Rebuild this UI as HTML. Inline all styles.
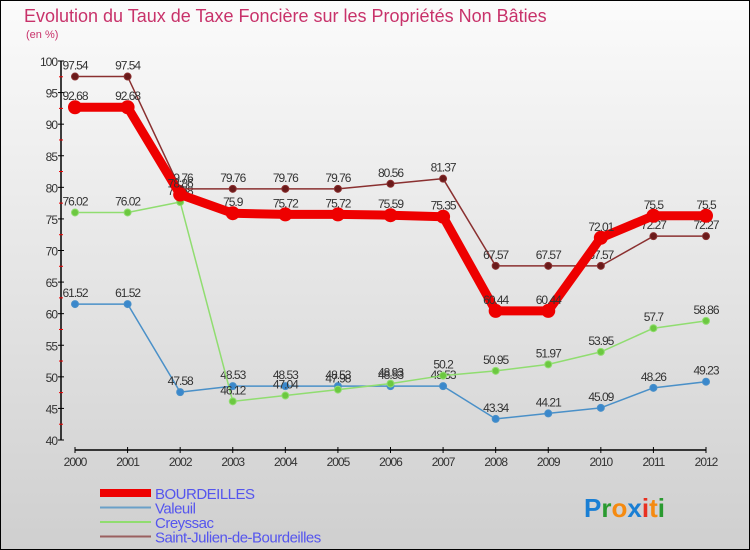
<!DOCTYPE html>
<html><head><meta charset="utf-8"><style>
body{margin:0;width:750px;height:550px;overflow:hidden;font-family:"Liberation Sans",sans-serif}
#frame{position:absolute;left:0;top:0;width:748px;height:548px;border:1px solid #000;background:linear-gradient(#fbfbfb,#cfcfcf)}
</style></head><body>
<div id="frame"></div>
<svg id="c" width="750" height="550" style="position:absolute;left:0;top:0">
<text x="24" y="22" font-size="18" fill="#c8326a">Evolution du Taux de Taxe Foncière sur les Propriétés Non Bâties</text>
<text x="26" y="38" font-size="11" fill="#c8326a">(en %)</text>
<g font-size="26" font-weight="bold">
<text x="584" y="517"><tspan fill="#1a7fd4">P</tspan><tspan fill="#2a9a30">r</tspan><tspan fill="#f58a10">o</tspan><tspan fill="#1a7fd4">x</tspan><tspan fill="#e83020">i</tspan><tspan fill="#f58a10">t</tspan><tspan fill="#2a9a30">i</tspan></text></g>
</svg>
<script>
const years=[2000,2001,2002,2003,2004,2005,2006,2007,2008,2009,2010,2011,2012];
const yTicks=[40,45,50,55,60,65,70,75,80,85,90,95,100];
const bourdeilles=[92.68,92.68,78.86,75.9,75.72,75.72,75.59,75.35,60.44,60.44,72.01,75.5,75.5];
const valeuil=[61.52,61.52,47.58,48.53,48.53,48.53,48.53,48.53,43.34,44.21,45.09,48.26,49.23];
const creyssac=[76.02,76.02,77.68,46.12,47.04,47.98,48.93,50.2,50.95,51.97,53.95,57.7,58.86];
const stjulien=[97.54,97.54,79.76,79.76,79.76,79.76,80.56,81.37,67.57,67.57,67.57,72.27,72.27];
const svg=document.getElementById('c');const NS='http://www.w3.org/2000/svg';
const X=i=>75+i*(706-75)/(years.length-1);
const Y=v=>440-(v-40)*(440-61)/60;
function el(t,a,p){const e=document.createElementNS(NS,t);for(const k in a)e.setAttribute(k,a[k]);(p||svg).appendChild(e);return e;}
const ax=el('g',{});


el('line',{x1:61,y1:61,x2:61,y2:440,stroke:'#000','stroke-width':1.5},ax);
yTicks.forEach(v=>{el('line',{x1:58,x2:64,y1:Y(v),y2:Y(v),stroke:'#000'},ax);
if(v<100)el('line',{x1:59,x2:63,y1:Y(v+2.5),y2:Y(v+2.5),stroke:'#e00'},ax);
const t=el('text',{x:57,y:Y(v)+5,'text-anchor':'end','font-size':12,fill:'#333','letter-spacing':'-1'},ax);t.textContent=v;});
const xa=el('g',{});


el('line',{x1:75,y1:450,x2:706,y2:450,stroke:'#000','stroke-width':1.5},xa);
years.forEach((y,i)=>{el('line',{x1:X(i),x2:X(i),y1:447,y2:453,stroke:'#000'},xa);
const t=el('text',{x:X(i),y:466,'text-anchor':'middle','font-size':12,fill:'#333','letter-spacing':'-1'},xa);t.textContent=y;});
function series(name,data,color,w,r,dot){
const g=el('g',{});


el('polyline',{points:data.map((v,i)=>X(i)+','+Y(v)).join(' '),fill:'none',stroke:color,'stroke-width':w,'stroke-linejoin':'round'},g);
data.forEach((v,i)=>{const c=el('circle',{cx:X(i),cy:Y(v),r:r,fill:dot,stroke:color,'stroke-width':1},g);


const t=el('text',{x:X(i),y:Y(v)-7,'text-anchor':'middle','font-size':12,fill:'#333','letter-spacing':'-1'},g);t.textContent=v;});}
series('valeuil',valeuil,'#4a90c8',1.5,3.5,'#3a88cc');
series('creyssac',creyssac,'#90dd70',1.5,3.5,'#6cc840');
series('saint-julien',stjulien,'#8a3030',1.5,3.5,'#6a1a1a');
series('bourdeilles',bourdeilles,'#ee0000',9,6.5,'#ee0000');
const lg=[['BOURDEILLES','#ee0000',8],['Valeuil','#6aa0c8',2],['Creyssac','#90dd70',2],['Saint-Julien-de-Bourdeilles','#9a6060',2]];
lg.forEach((l,i)=>{const g=el('g',{});


const y=493+i*14.5;
el('line',{x1:100,x2:151,y1:y,y2:y,stroke:l[1],'stroke-width':l[2]},g);
const t=el('text',{x:155,y:y+6,'font-size':15,fill:'#5555ee','letter-spacing':'-0.5'},g);t.textContent=l[0];});
</script>
</body></html>
